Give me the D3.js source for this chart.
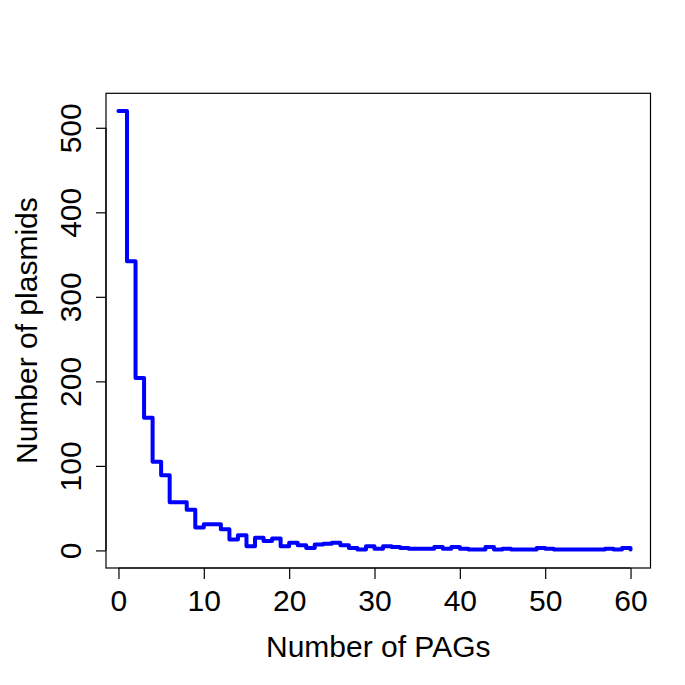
<!DOCTYPE html>
<html>
<head>
<meta charset="utf-8">
<script src="https://cdn.jsdelivr.net/npm/d3@7"></script>
<style>
  html, body { margin: 0; padding: 0; background: #fff; }
  svg { display: block; }
  text { font-family: "Liberation Sans", Arial, Helvetica, sans-serif; fill: #000; }
</style>
</head>
<body>
<svg id="chart" width="685" height="685"></svg>
<script>
// ---- data ----
const pags = d3.range(0, 61); // number of PAGs 0..60
const plasmids = [
  520, 342, 204, 157, 105, 89, 57, 57, 48, 27,
  31, 31, 25, 13, 18, 5, 15, 11, 14, 5,
  9, 6, 3, 7, 8, 9, 6, 3, 1, 5,
  2, 5, 4, 3, 2, 2, 2, 4, 2, 4,
  2, 1, 1, 4, 1, 2, 1, 1, 1, 3,
  2, 1, 1, 1, 1, 1, 1, 2, 1, 3,
  1
];
const xTicks = [0, 10, 20, 30, 40, 50, 60];
const yTicks = [0, 100, 200, 300, 400, 500];
const xTitle = "Number of PAGs";
const yTitle = "Number of plasmids";

// ---- layout ----
const box = { left: 106, right: 650.5, top: 93.3, bottom: 568 };
const svg = d3.select("#chart");

const x = d3.scaleLinear().domain([-1.46, 62.34]).range([box.left, box.right]);
const y = d3.scaleLinear().domain([-20.8, 540.8]).range([box.bottom, box.top]);

const data = pags.map((p, i) => ({ x: p, y: plasmids[i] }));

// step line
const line = d3.line()
  .x(d => x(d.x))
  .y(d => y(d.y))
  .curve(d3.curveStepAfter);

svg.append("path")
  .datum(data)
  .attr("d", line)
  .attr("fill", "none")
  .attr("stroke", "#0000ff")
  .attr("stroke-width", 4)
  .attr("stroke-linejoin", "round")
  .attr("stroke-linecap", "round");

// box
svg.append("rect")
  .attr("x", box.left).attr("y", box.top)
  .attr("width", box.right - box.left)
  .attr("height", box.bottom - box.top)
  .attr("fill", "none").attr("stroke", "#000").attr("stroke-width", 1.2);

// x axis
const xAxis = d3.axisBottom(x).tickValues(xTicks).tickSize(11).tickPadding(8);
const gx = svg.append("g").attr("transform", `translate(0,${box.bottom})`).call(xAxis);
gx.select(".domain").attr("d", `M${x(0)},0H${x(60)}`).attr("stroke-width", 1.2);
gx.selectAll(".tick line").attr("stroke-width", 1.2);
gx.selectAll(".tick text")
  .attr("font-size", 30)
  .attr("font-family", "Liberation Sans, Arial, sans-serif")
  .attr("dy", null)
  .attr("y", 43);

// y axis
const yAxis = d3.axisLeft(y).tickValues(yTicks).tickSize(10);
const gy = svg.append("g").attr("transform", `translate(${box.left},0)`).call(yAxis);
gy.select(".domain").attr("d", `M0,${y(0)}V${y(500)}`).attr("stroke-width", 1.2);
gy.selectAll(".tick line").attr("stroke-width", 1.2);
gy.selectAll(".tick text")
  .attr("font-size", 30)
  .attr("font-family", "Liberation Sans, Arial, sans-serif")
  .attr("x", null).attr("dy", null)
  .attr("text-anchor", "middle")
  .attr("transform", "translate(-25,0) rotate(-90)");

// titles
svg.append("text")
  .attr("x", (box.left + box.right) / 2 + 0)
  .attr("y", 657)
  .attr("text-anchor", "middle")
  .attr("font-size", 30)
  .text(xTitle);

svg.append("text")
  .attr("transform", `translate(37,${(box.top + box.bottom) / 2}) rotate(-90)`)
  .attr("text-anchor", "middle")
  .attr("font-size", 30)
  .text(yTitle);
</script>
</body>
</html>
